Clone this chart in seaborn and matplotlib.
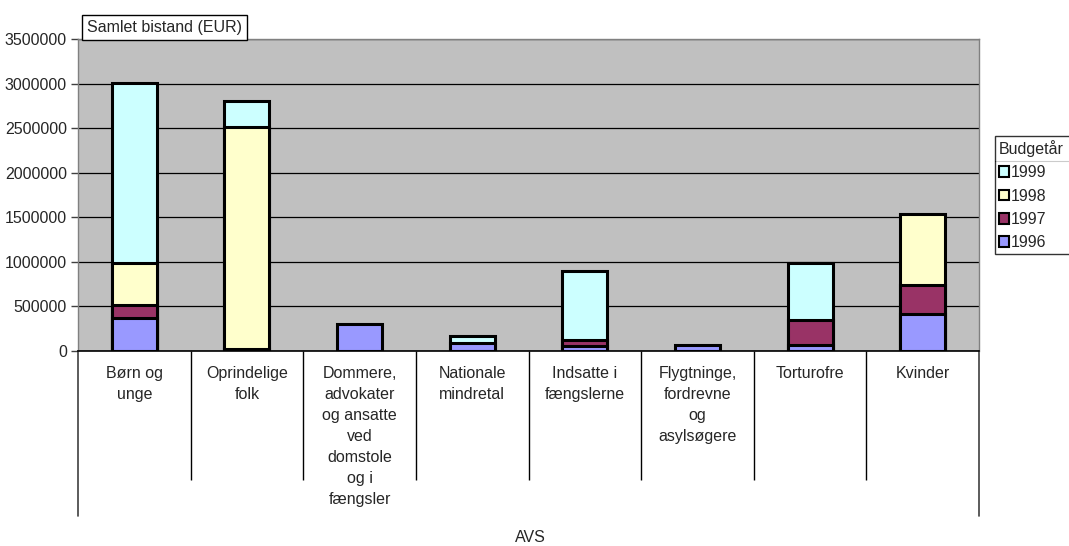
import pandas as pd
import seaborn as sns
import matplotlib.pyplot as plt
from matplotlib.patches import Patch
from matplotlib.lines import Line2D

categories = ['Børn og\nunge', 'Oprindelige\nfolk',
              'Dommere,\nadvokater\nog ansatte\nved\ndomstole\nog i\nfængsler',
              'Nationale\nmindretal', 'Indsatte i\nfængslerne',
              'Flygtninge,\nfordrevne\nog\nasylsøgere', 'Torturofre', 'Kvinder']
years = ['1996', '1997', '1998', '1999']
v1996 = [375000, 20000, 305000, 90000, 60000, 65000, 65000, 420000]
v1997 = [145000, 0, 0, 0, 60000, 0, 285000, 325000]
v1998 = [470000, 2490000, 0, 0, 0, 0, 0, 795000]
v1999 = [2020000, 290000, 0, 75000, 775000, 0, 635000, 0]
colors = {'1996': '#9999FF', '1997': '#993366', '1998': '#FFFFCC', '1999': '#CCFFFF'}

df = pd.DataFrame({'cat': categories, '1996': v1996, '1997': v1997,
                   '1998': v1998, '1999': v1999})
# stacked tops; a layer with no value gets height 0 so it is hidden
cum = df[years].cumsum(axis=1)
for y in years:
    cum[y] = cum[y].where(df[y] > 0, 0)
cum['cat'] = categories

sns.set_style('white')
plt.rcParams['font.family'] = ['Liberation Sans', 'DejaVu Sans']
fs = 11.5

fig = plt.figure(figsize=(10.69, 5.46), dpi=100)
ax = fig.add_axes([78 / 1069, 1 - 351 / 546, 901 / 1069, 312 / 546])
ax.set_facecolor('#C0C0C0')

# tallest layer first so the lower layers are drawn over it
for y in reversed(years):
    sns.barplot(data=cum, x='cat', y=y, color=colors[y], width=0.4,
                edgecolor='black', linewidth=2.2, saturation=1, ax=ax,
                order=categories, errorbar=None)
for p in ax.patches:
    if p.get_height() == 0:
        p.set_visible(False)

ax.set_ylim(0, 3500000)
ax.set_xlim(-0.5, 7.5)
ax.set_yticks(range(0, 3500001, 500000))
ax.set_yticklabels([str(v) for v in range(0, 3500001, 500000)], fontsize=fs)
ax.yaxis.grid(True, color='black', linewidth=0.9)
ax.set_axisbelow(True)
ax.tick_params(axis='y', left=True, length=5, width=1, color='#404040', pad=3)

ax.set_xticks(range(8))
ax.set_xticklabels(categories, fontsize=fs, linespacing=1.5, ha='center',
                   multialignment='center', va='top')
ax.tick_params(axis='x', which='major', length=0, pad=11)
ax.set_xticks([i + 0.5 for i in range(7)], minor=True)
ax.tick_params(axis='x', which='minor', bottom=True, length=93, width=1,
               color='black', direction='out')
ax.set_xlabel('')
ax.set_ylabel('')

for side in ['top', 'right', 'left']:
    ax.spines[side].set_color('#808080')
    ax.spines[side].set_linewidth(1)
ax.spines['bottom'].set_color('black')
ax.spines['bottom'].set_linewidth(1.2)

# outer separators below the category axis
for xf in [0, 1]:
    ax.add_line(Line2D([xf, xf], [0, -165 / 312], transform=ax.transAxes,
                       color='#404040', linewidth=1.2, clip_on=False))

fig.text(87 / 1069, 1 - 27.5 / 546, 'Samlet bistand (EUR)', fontsize=fs,
         va='center', ha='left',
         bbox=dict(facecolor='white', edgecolor='black', linewidth=1,
                   boxstyle='square,pad=0.32'))
fig.text(530 / 1069, 1 - 538 / 546, 'AVS', fontsize=fs, ha='center', va='center')

handles = [Patch(facecolor=colors[y], edgecolor='black', linewidth=1.5, label=y)
           for y in reversed(years)]
x0 = 995 / 1069
top = 1 - 136 / 546
leg = fig.legend(handles=handles, title='Budgetår', loc='upper left',
                 bbox_to_anchor=(x0, top - 0.2, 1.02 - x0, 0.2), mode='expand',
                 fontsize=fs, title_fontsize=fs, frameon=True, fancybox=False,
                 borderpad=0.25, handlelength=0.65, handleheight=0.65,
                 handletextpad=0.1, labelspacing=0.52, borderaxespad=0)
leg.get_frame().set_edgecolor('black')
leg.get_frame().set_linewidth(1)
leg._legend_box.align = 'left'
fig.add_artist(Line2D([x0, 1], [1 - 161 / 546, 1 - 161 / 546],
                      color='black', linewidth=0.8))

fig.savefig('out.png', dpi=100)
